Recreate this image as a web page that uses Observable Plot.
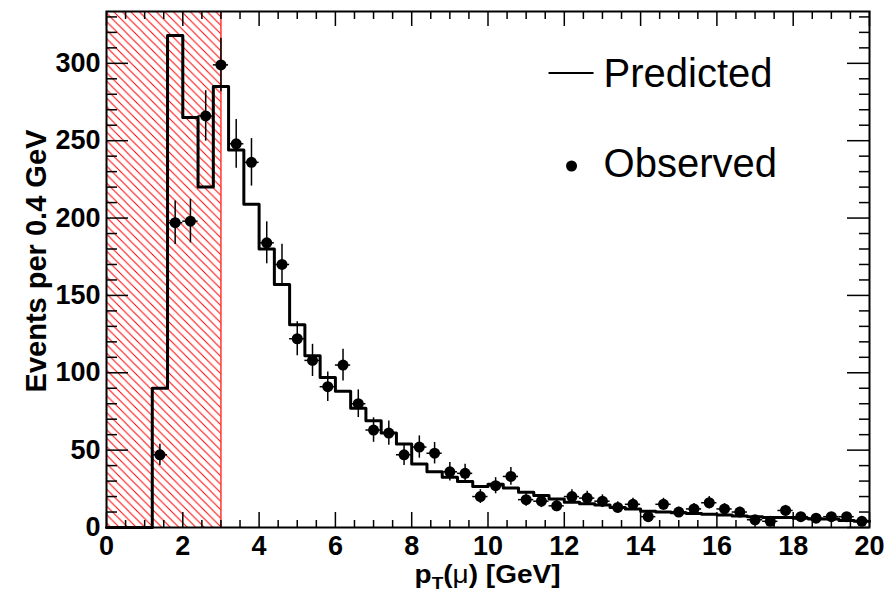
<!DOCTYPE html>
<html><head><meta charset="utf-8">
<script src="https://cdn.jsdelivr.net/npm/d3@7"></script>
<script src="https://cdn.jsdelivr.net/npm/@observablehq/plot@0.6"></script>
<style>body{margin:0;background:#fff} svg{display:block}</style>
</head><body><div id="chart"></div>
<script>
// ---- data ----
const binWidth = 0.4;
// predicted histogram, 50 bins of 0.4 GeV from 0 to 20
const predicted = [0,0,0,90,318,265,220,285,244,209,180,157,131,111,97,88,77,69,61,54,
  41,36,32.5,29.7,26.5,28,25.6,22.8,20.7,18.5,16.4,15.3,14.5,13,12,10.5,10,9.5,9,8.5,
  8,7.5,7,6.5,6.5,6,5.5,5.5,4.5,4];
// observed counts, bin centres from 1.4 to 19.8 GeV
const observedStart = 1.4;
const observed = [47,197,198,266,299,248,236,184,170,122,108,91,105,80,63,61,47,52,48,36,
  35,20,27,33,18,17,14,20,19,17,13,15,7,15,10,12,16,12,10,5,4,11,7,6,7,7,4];
const excludedRange = [0, 3];
const xMajor = [0,2,4,6,8,10,12,14,16,18,20];
const xMinor = d3.range(0, 20.001, 0.5).filter(v => v % 2 !== 0);
const yMajor = [0,50,100,150,200,250,300];
const yMinor = d3.range(10, 334, 10).filter(v => v % 50 !== 0);
const legendLabels = ["Predicted", "Observed"];

// ---- derived tables ----
const predLine = predicted.map((v, i) => ({x: +(i * binWidth).toFixed(1), y: v}));
predLine.push({x: 20, y: predicted[predicted.length - 1]});
const obs = observed.map((v, i) => {
  const c = +(observedStart + i * binWidth).toFixed(1);
  const e = Math.sqrt(v);
  return {x: c, y: v, lo: v - e, hi: v + e, x1: c - binWidth / 2, x2: c + binWidth / 2};
});

const W = 890, H = 594, mL = 106, mR = 21, mT = 11, mB = 67;
const pw = W - mL - mR, ph = H - mT - mB;
const FONT = "Liberation Sans, Arial, Helvetica, sans-serif";

function hatchDefs() {
  const defs = d3.create("svg:defs");
  const s = 8.5;
  const p = defs.append("pattern").attr("id", "hatch").attr("patternUnits", "userSpaceOnUse")
    .attr("width", s).attr("height", s);
  p.append("path").attr("d", `M-2,-2L${s + 2},${s + 2}M-2,${s - 2}L2,${s + 2}M${s - 2},-2L${s + 2},2`)
    .attr("stroke", "#ff0000").attr("stroke-width", 1).attr("fill", "none");
  return defs.node();
}

function labels(index, scales, values, dims) {
  const g = d3.create("svg:g").attr("font-family", FONT).attr("fill", "black");
  const cx = (dims.marginLeft + dims.width - dims.marginRight) / 2;
  const cy = (dims.marginTop + dims.height - dims.marginBottom) / 2;
  // x label
  const xt = g.append("text").attr("transform", `translate(${cx},${dims.height - 11}) scale(1.12,1)`)
    .attr("text-anchor", "middle").attr("font-size", 25).attr("font-weight", "bold");
  xt.append("tspan").text("p");
  xt.append("tspan").attr("font-size", 17).attr("dy", 6).text("T");
  xt.append("tspan").attr("dy", -6).text("(");
  xt.append("tspan").attr("font-weight", "normal").text("\u03bc");
  xt.append("tspan").text(") [GeV]");
  // y label
  g.append("text").attr("transform", `translate(36,${cy - 8}) rotate(-90)`)
    .attr("text-anchor", "middle").attr("dy", "0.35em").attr("font-size", 29).attr("font-weight", "bold")
    .text("Events per 0.4 GeV");
  // legend
  const lx = scales.x(11.6), ly = dims.marginTop;
  g.append("line").attr("x1", lx).attr("x2", lx + 45).attr("y1", ly + 62).attr("y2", ly + 62)
    .attr("stroke", "black").attr("stroke-width", 2);
  g.append("text").attr("x", lx + 55).attr("y", ly + 76).attr("text-anchor", "start")
    .attr("font-size", 40).attr("font-weight", "normal").text(legendLabels[0]);
  g.append("circle").attr("cx", lx + 23).attr("cy", ly + 155).attr("r", 5.5).attr("fill", "black");
  g.append("text").attr("x", lx + 55).attr("y", ly + 166).attr("text-anchor", "start")
    .attr("font-size", 40).attr("font-weight", "normal").text(legendLabels[1]);
  return g.node();
}

const tick = {stroke: "black", strokeWidth: 1.5};
const chart = Plot.plot({
  width: W, height: H,
  marginLeft: mL, marginRight: mR, marginTop: mT, marginBottom: mB,
  style: {fontFamily: FONT, fontSize: "27px", fontWeight: "bold", background: "white", color: "black"},
  x: {domain: [0, 20]},
  y: {domain: [0, 333.5]},
  marks: [
    hatchDefs,
    Plot.rect([excludedRange], {x1: d => d[0], x2: d => d[1], fill: "url(#hatch)"}),
    Plot.ruleX([excludedRange[1]], {stroke: "#ff0000", strokeWidth: 1.2}),
    // ticks (drawn inside the frame on all four sides)
    Plot.tickX(xMajor, {x: d => d, insetTop: ph - 15, ...tick}),
    Plot.tickX(xMinor, {x: d => d, insetTop: ph - 7, ...tick}),
    Plot.tickX(xMajor, {x: d => d, insetBottom: ph - 15, ...tick}),
    Plot.tickX(xMinor, {x: d => d, insetBottom: ph - 8, ...tick}),
    Plot.tickY(yMajor, {y: d => d, insetRight: pw - 22, ...tick}),
    Plot.tickY(yMinor, {y: d => d, insetRight: pw - 11, ...tick}),
    Plot.tickY(yMajor, {y: d => d, insetLeft: pw - 22, ...tick}),
    Plot.tickY(yMinor, {y: d => d, insetLeft: pw - 10, ...tick}),
    Plot.axisX({ticks: xMajor, tickSize: 0, tickPadding: 8, label: null, tickFormat: d => d}),
    Plot.axisY({ticks: yMajor, tickSize: 0, tickPadding: 6, label: null, tickFormat: d => d}),
    // predicted
    Plot.line(predLine, {x: "x", y: "y", curve: "step-after", stroke: "black", strokeWidth: 3}),
    // observed
    Plot.ruleX(obs, {x: "x", y1: "lo", y2: "hi", stroke: "black", strokeWidth: 1.5}),
    Plot.ruleY(obs, {y: "y", x1: "x1", x2: "x2", stroke: "black", strokeWidth: 1.5}),
    Plot.dot(obs, {x: "x", y: "y", r: 5.5, fill: "black", stroke: "none"}),
    Plot.frame({stroke: "black", strokeWidth: 2}),
    labels
  ]
});
document.getElementById("chart").appendChild(chart);
</script>
</body></html>
